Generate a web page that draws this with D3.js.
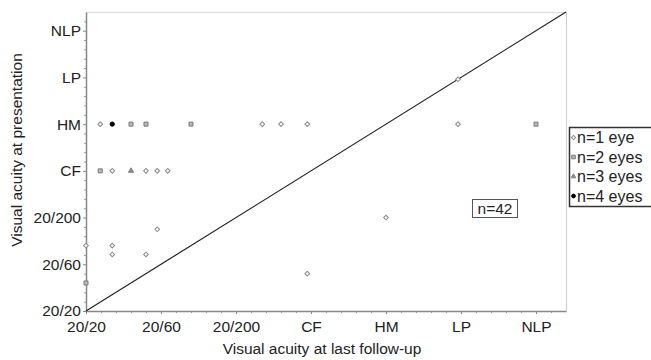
<!DOCTYPE html>
<html>
<head>
<meta charset="utf-8">
<script src="https://cdn.jsdelivr.net/npm/d3@7"></script>
<style>
  body { margin: 0; background: #fff; }
  text { font-family: "Liberation Sans", Arial, Helvetica, sans-serif; fill: #222; }
</style>
</head>
<body>
<div id="chart"></div>
<script>
// acuity categories, same on both axes
const xTickLabels = ['20/20', '20/60', '20/200', 'CF', 'HM', 'LP', 'NLP'];
const yTickLabels = ['20/20', '20/60', '20/200', 'CF', 'HM', 'LP', 'NLP'];

// [last follow-up, presentation] in category units
const oneEye = [
  [0.19, 4], [2.35, 4], [2.6, 4], [2.95, 4], [4.96, 4],
  [0.35, 3], [0.8, 3], [0.95, 3], [1.09, 3],
  [4.96, 4.96],
  [0, 1.4], [0.35, 1.4], [0.35, 1.21], [0.8, 1.21], [0.95, 1.75],
  [4, 2], [2.95, 0.8]
];
const twoEyes = [[0.6, 4], [0.8, 4], [1.4, 4], [6, 4], [0.19, 3], [0, 0.6]];
const threeEyes = [[0.6, 3]];
const fourEyes = [[0.35, 4]];

const legendLabels = ['n=1 eye', 'n=2 eyes', 'n=3 eyes', 'n=4 eyes'];

const width = 651, height = 360;
const margin = { top: 12, right: 85, bottom: 49, left: 86 };

const svg = d3.select('#chart').append('svg')
  .attr('width', width)
  .attr('height', height);

const x = d3.scaleLinear().domain([0, 6.4]).range([margin.left, width - margin.right]);
const y = d3.scaleLinear().domain([0, 6.4]).range([height - margin.bottom, margin.top]);

// frame top/right
svg.append('line')
  .attr('x1', x(0)).attr('x2', x(6.4)).attr('y1', y(6.4) + 0.5).attr('y2', y(6.4) + 0.5)
  .attr('stroke', '#ddd');
svg.append('line')
  .attr('x1', x(6.4) + 0.5).attr('x2', x(6.4) + 0.5).attr('y1', y(6.4)).attr('y2', y(0))
  .attr('stroke', '#ccc');

const majors = d3.range(0, 7);
const minors = d3.range(0, 32).map(d => d / 5).filter(d => d % 1 !== 0);

// minor ticks
svg.append('g')
  .attr('transform', `translate(${x(0)},0)`)
  .call(d3.axisLeft(y).tickValues(minors).tickSize(2).tickFormat(''))
  .call(g => g.select('.domain').remove())
  .selectAll('line').attr('stroke', '#999');
svg.append('g')
  .attr('transform', `translate(0,${y(0)})`)
  .call(d3.axisBottom(x).tickValues(minors).tickSize(2).tickFormat(''))
  .call(g => g.select('.domain').remove())
  .selectAll('line').attr('stroke', '#999');

// Y axis
svg.append('g')
  .attr('transform', `translate(${x(0)},0)`)
  .call(d3.axisLeft(y).tickValues(majors).tickSize(3).tickSizeOuter(0).tickPadding(2)
    .tickFormat(i => yTickLabels[i]))
  .call(g => g.select('.domain').attr('stroke', '#888').attr('stroke-width', 1.5))
  .call(g => g.selectAll('line').attr('stroke', '#888'))
  .selectAll('text')
  .style('font-size', '15.5px')
  .attr('fill', '#222');

// X axis
svg.append('g')
  .attr('transform', `translate(0,${y(0)})`)
  .call(d3.axisBottom(x).tickValues(majors).tickSize(3).tickSizeOuter(0).tickPadding(7)
    .tickFormat(i => xTickLabels[i]))
  .call(g => g.select('.domain').attr('stroke', '#888').attr('stroke-width', 1.5))
  .call(g => g.selectAll('line').attr('stroke', '#888'))
  .selectAll('text')
  .style('font-size', '15.5px')
  .attr('fill', '#222');

// line of equality
svg.append('line')
  .attr('x1', x(0)).attr('y1', y(0))
  .attr('x2', x(6.4)).attr('y2', y(6.4))
  .attr('stroke', '#222')
  .attr('stroke-width', 1.2);

// markers
const shapes = [
  { data: oneEye, type: d3.symbolSquare, size: 11, rotate: 45, fill: '#fff', stroke: '#888' },
  { data: twoEyes, type: d3.symbolSquare, size: 16, rotate: 0, fill: '#bbb', stroke: '#777' },
  { data: threeEyes, type: d3.symbolTriangle, size: 12, rotate: 0, fill: '#888', stroke: '#888' },
  { data: fourEyes, type: d3.symbolCircle, size: 14, rotate: 0, fill: '#000', stroke: '#000' }
];

shapes.forEach(s => {
  svg.append('g').selectAll('path')
    .data(s.data)
    .enter()
    .append('path')
    .attr('d', d3.symbol().type(s.type).size(s.size))
    .attr('transform', d => `translate(${x(d[0])},${y(d[1])}) rotate(${s.rotate})`)
    .attr('fill', s.fill)
    .attr('stroke', s.stroke)
    .attr('stroke-width', 1);
});

// n=42 box
svg.append('rect')
  .attr('x', 472.5).attr('y', 199.5)
  .attr('width', 45).attr('height', 18)
  .attr('fill', '#fff')
  .attr('stroke', '#555');
svg.append('text')
  .attr('x', 495).attr('y', 214)
  .attr('text-anchor', 'middle')
  .style('font-size', '15.5px')
  .text('n=42');

// legend
const legend = svg.append('g').attr('transform', 'translate(569,127)');
legend.append('rect')
  .attr('x', 0.5).attr('y', 0.5)
  .attr('width', 100).attr('height', 79)
  .attr('fill', '#fff')
  .attr('stroke', '#333')
  .attr('stroke-width', 1.5);

legendLabels.forEach((label, i) => {
  const s = shapes[i];
  const cy = 10.5 + i * 19.5;
  legend.append('path')
    .attr('d', d3.symbol().type(s.type).size(s.size * 0.8))
    .attr('transform', `translate(4.5,${cy}) rotate(${s.rotate})`)
    .attr('fill', s.fill)
    .attr('stroke', s.stroke);
  legend.append('text')
    .attr('x', 8)
    .attr('y', cy + 5.5)
    .style('font-size', '16px')
    .text(label);
});

// axis titles
svg.append('text')
  .attr('x', (x(0) + x(6.4)) / 2 - 4)
  .attr('y', 354)
  .attr('text-anchor', 'middle')
  .style('font-size', '15.5px')
  .text('Visual acuity at last follow-up');

svg.append('text')
  .attr('transform', `translate(22,150) rotate(-90)`)
  .attr('text-anchor', 'middle')
  .style('font-size', '15.5px')
  .text('Visual acuity at presentation');
</script>
</body>
</html>
